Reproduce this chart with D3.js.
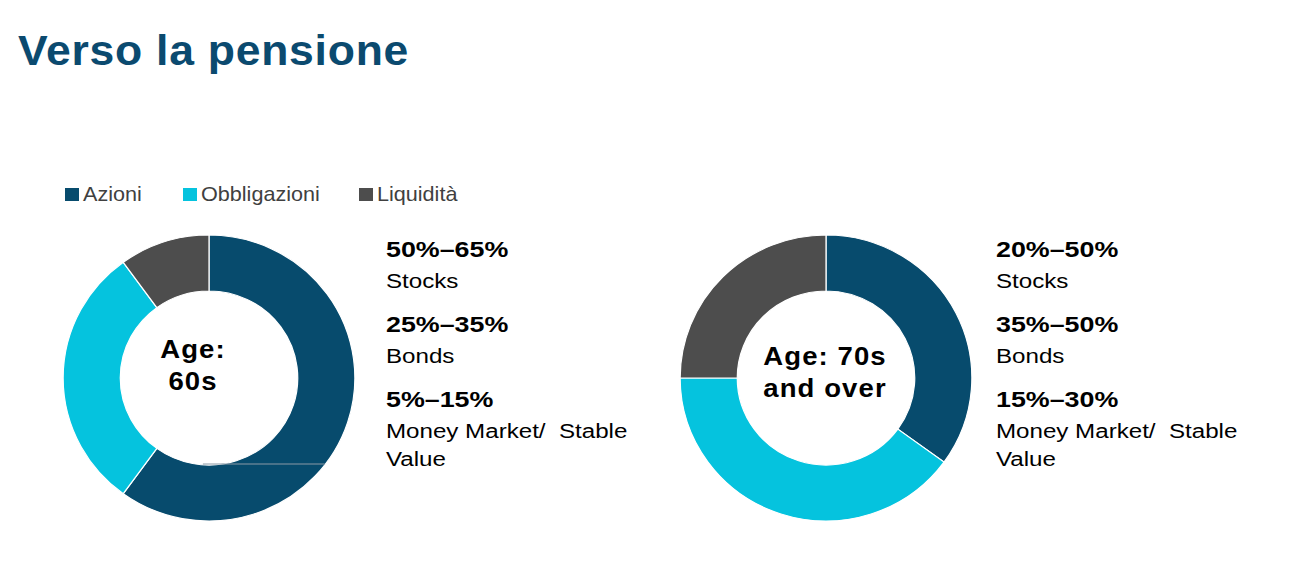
<!DOCTYPE html>
<html>
<head>
<meta charset="utf-8">
<script src="https://cdn.jsdelivr.net/npm/d3@7"></script>
<style>
  body { margin: 0; background: #fff; }
  svg { display: block; font-family: "Liberation Sans", Arial, sans-serif; }
</style>
</head>
<body>
<svg id="chart" width="1289" height="565"></svg>
<script>
const categories = ["Azioni", "Obbligazioni", "Liquidità"];
const colors = ["#074b6d", "#05c3de", "#4d4d4d"];

const ages = ["Age:\n60s", "Age: 70s\nand over"];
const mix60 = [60, 30, 10];
const mix70 = [35, 40, 25];

const ranges60 = ["50%–65%", "25%–35%", "5%–15%"];
const ranges70 = ["20%–50%", "35%–50%", "15%–30%"];
const assetNames = [["Stocks"], ["Bonds"], ["Money Market/  Stable", "Value"]];

const svg = d3.select("#chart");
const R = 143, r = 87;

svg.append("text")
  .attr("transform", "translate(18,65) scale(1.06,1)")
  .style("font-size", "42px").style("font-weight", "bold")
  .style("letter-spacing", "0.7px")
  .style("fill", "#0b4a6f")
  .text("Verso la pensione");

// legend
const legend = svg.append("g").attr("transform", "translate(65,188)");
const legendX = d3.scaleOrdinal().domain(categories).range([0, 118, 294]);
const item = legend.selectAll("g").data(categories).join("g")
  .attr("transform", d => `translate(${legendX(d)},0)`);
item.append("rect").attr("width", 14).attr("height", 13)
  .attr("fill", (d, i) => colors[i]);
item.append("text").attr("transform", "translate(18,13) scale(1.08,1)")
  .style("font-size", "20px").style("fill", "#404040").text(d => d);

const pie = d3.pie().sort(null).value(d => d);
const arc = d3.arc().innerRadius(r).outerRadius(R);

function donut(values, cx, cy, label, labelDx, labelDy, ranges, textX) {
  const g = svg.append("g").attr("transform", `translate(${cx},${cy}) scale(1.02,1)`);
  g.selectAll("path").data(pie(values)).join("path")
    .attr("d", arc)
    .attr("fill", (d, i) => colors[i])
    .attr("stroke", "#fff").attr("stroke-width", 1.2);

  const lab = svg.append("text")
    .attr("transform", `translate(${cx + labelDx},${cy}) scale(1.1,1)`)
    .attr("text-anchor", "middle")
    .style("font-size", "25px").style("font-weight", "bold")
    .style("letter-spacing", "1px");
  label.split("\n").forEach((t, i) => {
    lab.append("tspan").attr("x", 0).attr("y", labelDy + i * 32).text(t);
  });

  const side = svg.append("g").attr("transform", `translate(${textX},0)`);
  ranges.forEach((t, i) => {
    const y0 = 257 + i * 75;
    side.append("text").attr("transform", `translate(0,${y0}) scale(1.22,1)`)
      .style("font-size", "22px").style("font-weight", "bold")
      .text(t);
    assetNames[i].forEach((n, j) => {
      side.append("text").attr("transform", `translate(0,${y0 + 31 + j * 28}) scale(1.15,1)`)
        .attr("xml:space", "preserve")
        .style("white-space", "pre")
        .style("font-size", "21px")
        .text(n);
    });
  });
  return g;
}

const g60 = donut(mix60, 209, 378, ages[0], -16, -20, ranges60, 386);
donut(mix70, 826, 378, ages[1], -1, -13, ranges70, 996);

// thin seam line seen inside the first ring
g60.append("line")
  .attr("x1", -6).attr("x2", Math.sqrt(R * R - r * r))
  .attr("y1", r - 1).attr("y2", r - 1)
  .attr("stroke", "#8b99a6").attr("stroke-width", 1);
</script>
</body>
</html>
